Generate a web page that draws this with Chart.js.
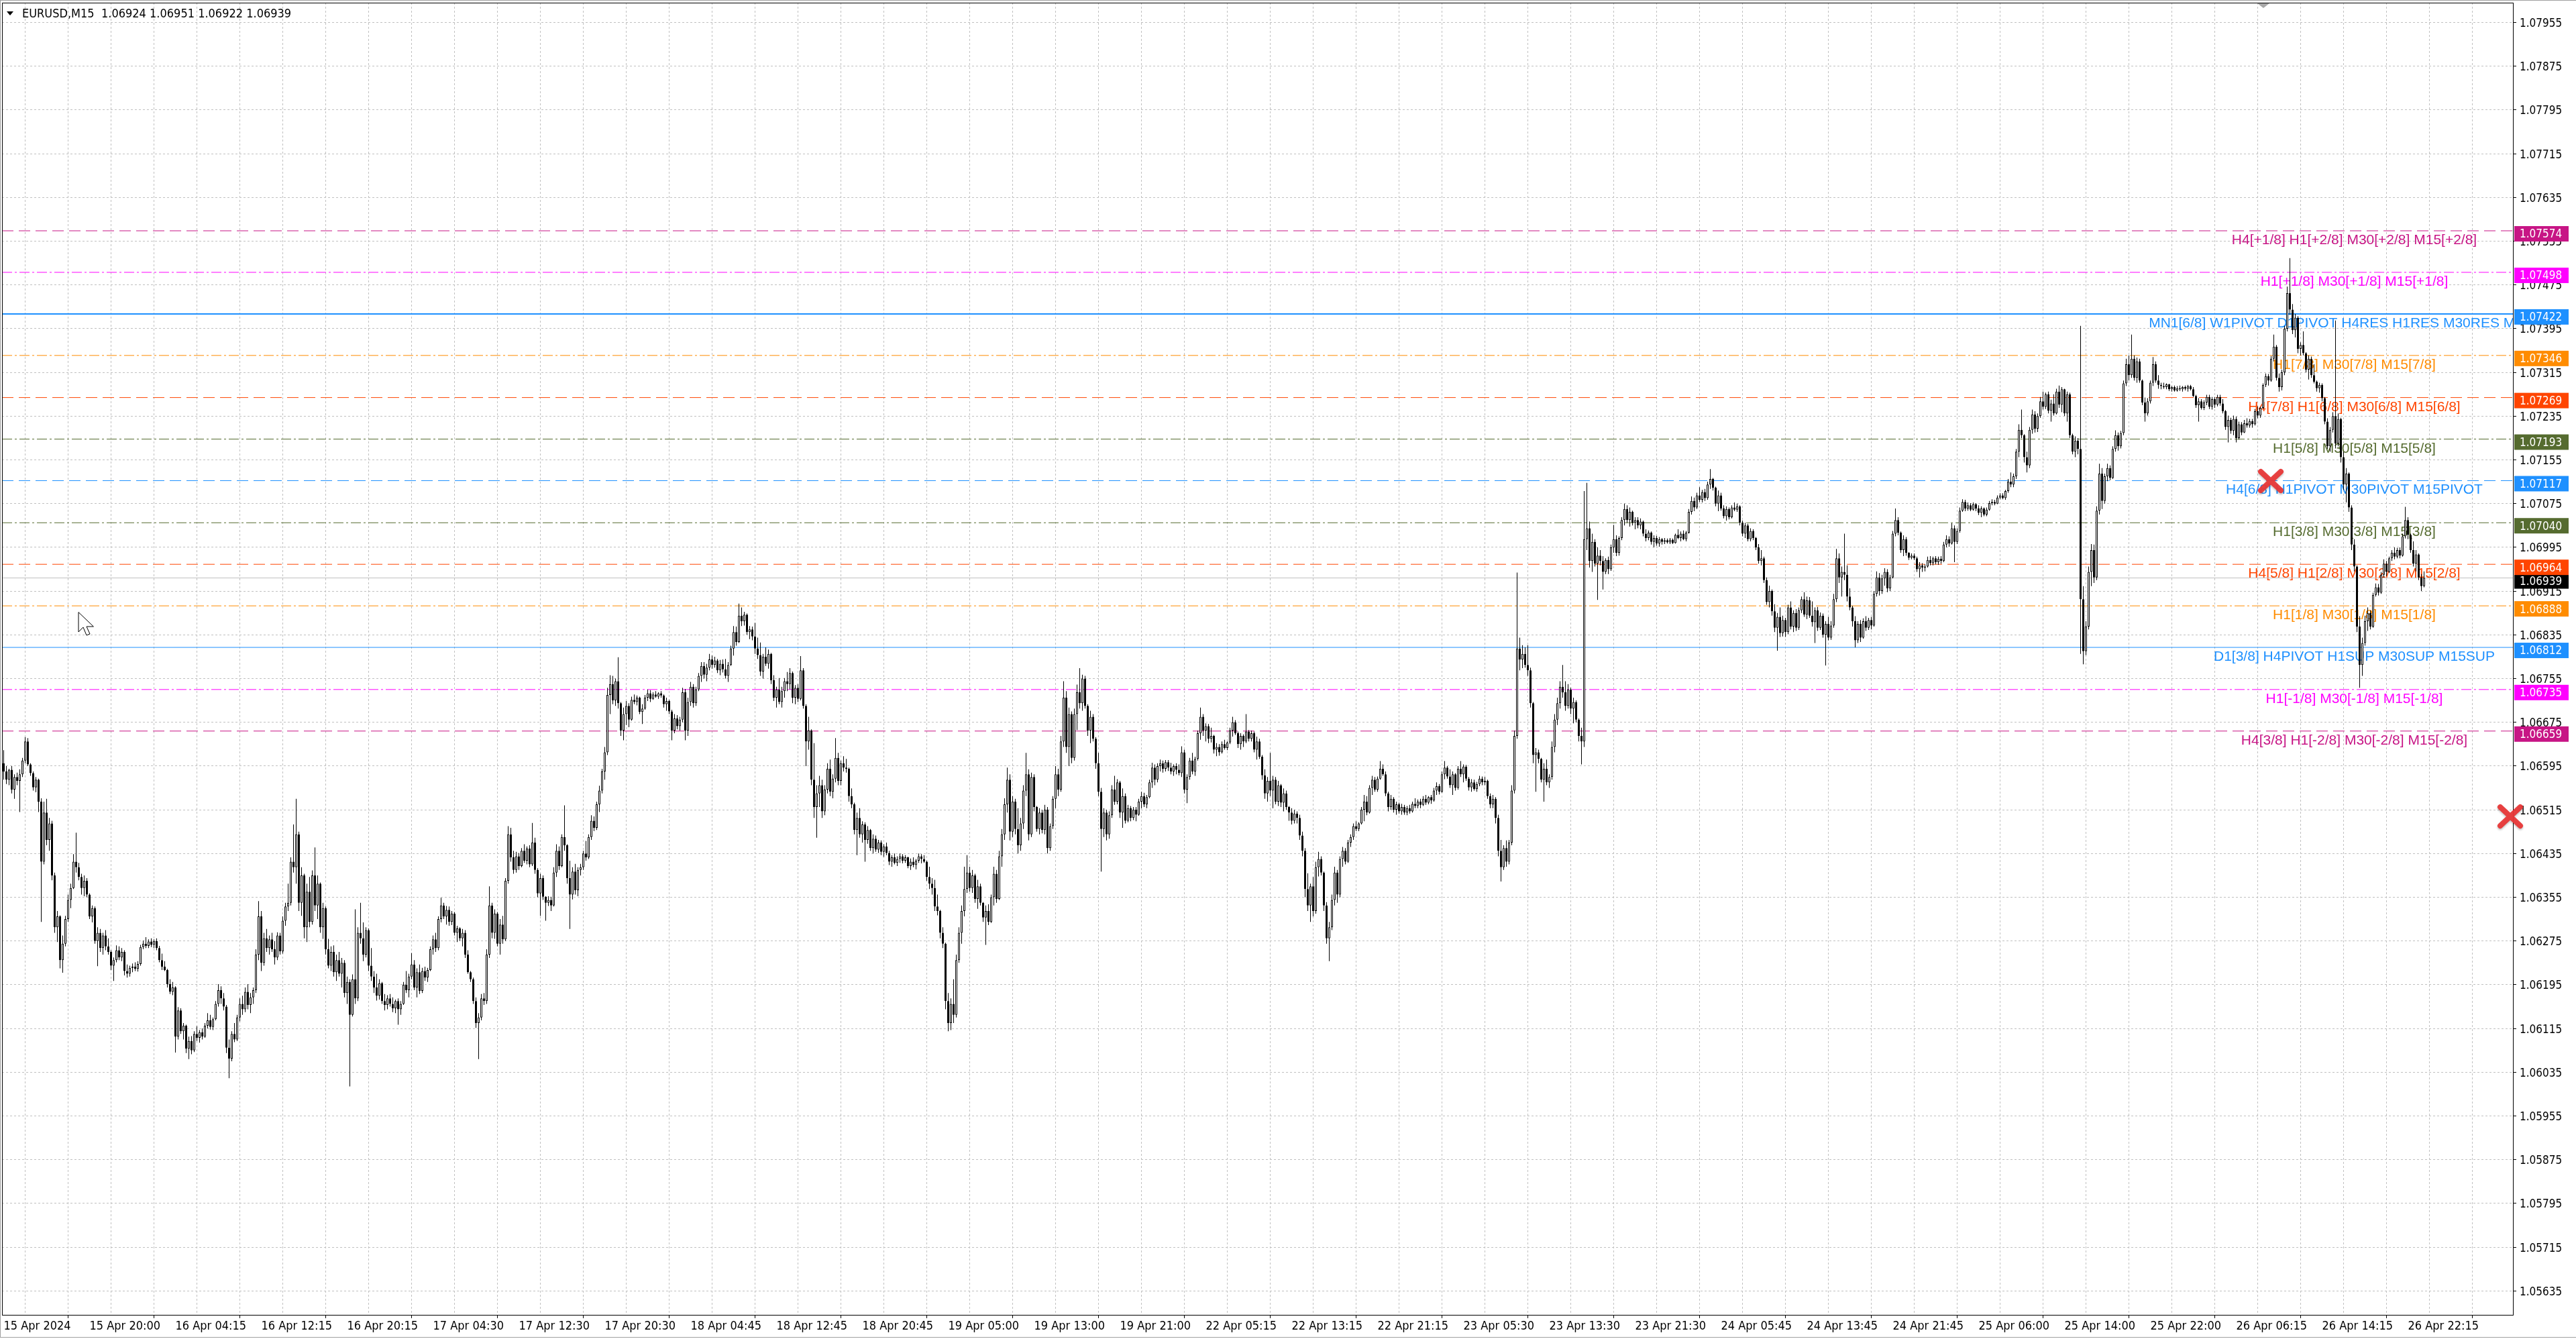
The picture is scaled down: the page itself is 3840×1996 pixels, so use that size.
<!DOCTYPE html>
<html>
<head>
    <title>EURUSD,M15</title>
    <script src="https://cdn.jsdelivr.net/npm/chart.js"></script>
    <style>
        html, body { margin: 0; padding: 0; background: #fff; overflow: hidden; }
    </style>
</head>
<body>
    <canvas id="priceChart" width="3840" height="1996"></canvas>

    <script>
        // M15 candles per trading day, [open, high, low, close] in points: price = 1 + v / 100000
        const apr15 = [
            [6600,6624,6570,6585],[6585,6595,6562,6570],[6570,6590,6560,6588],[6588,6595,6545,6552],[6552,6580,6535,6575],
            [6575,6583,6560,6568],[6568,6589,6511,6580],[6580,6610,6575,6605],[6605,6648,6600,6640],[6640,6646,6595,6598],
            [6598,6600,6577,6582],[6582,6585,6550,6556],[6556,6575,6547,6570],[6570,6572,6511,6530],[6530,6536,6310,6420],
            [6420,6530,6415,6510],[6510,6535,6450,6460],[6460,6500,6440,6490],[6490,6495,6386,6395],[6395,6400,6290,6300],
            [6300,6330,6273,6320],[6320,6322,6225,6240],[6240,6285,6217,6270],[6270,6321,6265,6315],[6315,6360,6310,6350],
            [6350,6380,6335,6372],[6372,6434,6370,6420],[6420,6473,6400,6410],[6410,6418,6386,6392],[6392,6398,6360,6372],
            [6372,6395,6357,6385],[6385,6390,6355,6360],[6360,6362,6315,6320],[6320,6340,6309,6335],[6335,6338,6270,6275],
            [6275,6300,6229,6290],[6290,6297,6255,6262],[6262,6290,6250,6285],[6285,6295,6258,6265],[6265,6280,6250,6255],
            [6255,6258,6222,6230],[6230,6245,6202,6240],[6240,6267,6236,6258],[6258,6265,6240,6245],[6245,6262,6238,6255],
            [6255,6258,6212,6220],[6220,6232,6208,6215],[6215,6230,6210,6226]
        ];
        const apr16 = [
            [6226,6234,6218,6228],[6228,6236,6220,6224],[6224,6238,6219,6233],[6233,6268,6230,6264],[6264,6276,6260,6270],
            [6270,6282,6262,6266],[6266,6278,6262,6274],[6274,6280,6264,6268],[6268,6278,6262,6275],[6275,6280,6258,6262],
            [6262,6266,6236,6240],[6240,6252,6222,6228],[6228,6238,6220,6222],[6222,6224,6190,6196],[6196,6205,6178,6182],
            [6182,6200,6176,6190],[6190,6192,6071,6100],[6100,6154,6095,6148],[6148,6152,6105,6110],[6110,6125,6095,6120],
            [6120,6122,6070,6078],[6078,6100,6059,6092],[6092,6101,6068,6075],[6075,6110,6072,6105],[6105,6119,6092,6098],
            [6098,6112,6089,6108],[6108,6115,6095,6100],[6100,6125,6098,6120],[6120,6143,6115,6130],[6130,6140,6113,6118],
            [6118,6135,6112,6132],[6132,6165,6130,6160],[6160,6196,6155,6185],[6185,6192,6160,6170],[6170,6180,6148,6155],
            [6155,6158,6070,6080],[6080,6095,6024,6060],[6060,6110,6055,6105],[6105,6125,6090,6095],[6095,6140,6092,6135],
            [6135,6170,6128,6160],[6160,6175,6140,6150],[6150,6190,6145,6182],[6182,6196,6150,6158],[6158,6180,6143,6172],
            [6172,6190,6160,6185],[6185,6260,6180,6250],[6250,6348,6240,6320],[6320,6330,6220,6235],[6235,6290,6230,6280],
            [6280,6297,6255,6262],[6262,6285,6250,6278],[6278,6290,6255,6260],[6260,6275,6232,6245],[6245,6291,6240,6285],
            [6285,6290,6250,6256],[6256,6320,6252,6312],[6312,6345,6303,6338],[6338,6380,6330,6345],[6345,6428,6340,6420],
            [6420,6488,6400,6410],[6410,6535,6380,6470],[6470,6475,6330,6345],[6345,6410,6321,6395],[6395,6398,6280,6300],
            [6300,6380,6273,6365],[6365,6392,6300,6310],[6310,6404,6305,6395],[6395,6446,6330,6340],[6340,6395,6315,6380],
            [6380,6382,6290,6300],[6300,6345,6279,6335],[6335,6338,6250,6260],[6260,6279,6225,6230],[6230,6265,6220,6255],
            [6255,6267,6210,6218],[6218,6250,6202,6240],[6240,6255,6210,6215],[6215,6244,6190,6235],[6235,6240,6172,6180],
            [6180,6210,6160,6200],[6200,6205,6009,6140],[6140,6214,6137,6205],[6205,6333,6160,6170],[6170,6300,6165,6290],
            [6290,6345,6270,6280],[6280,6309,6238,6250],[6250,6300,6245,6295],[6295,6298,6220,6230],[6230,6262,6202,6210],
            [6210,6220,6180,6190],[6190,6215,6166,6175],[6175,6205,6168,6198],[6198,6200,6160,6165],[6165,6178,6148,6158]
        ];
        const apr17 = [
            [6158,6176,6150,6170],[6170,6178,6155,6160],[6160,6172,6145,6152],[6152,6168,6143,6165],[6165,6170,6122,6150],
            [6150,6165,6140,6160],[6160,6200,6158,6195],[6195,6220,6180,6185],[6185,6215,6172,6210],[6210,6253,6205,6232],
            [6232,6240,6185,6190],[6190,6225,6172,6218],[6218,6232,6178,6184],[6184,6226,6180,6220],[6220,6228,6202,6208],
            [6208,6226,6200,6222],[6222,6265,6220,6260],[6260,6285,6250,6278],[6278,6290,6255,6262],[6262,6320,6258,6315],
            [6315,6354,6309,6340],[6340,6345,6315,6320],[6320,6339,6305,6332],[6332,6338,6303,6310],[6310,6330,6304,6325],
            [6325,6328,6285,6290],[6290,6303,6273,6298],[6298,6300,6275,6280],[6280,6297,6265,6290],[6290,6295,6244,6250],
            [6250,6258,6215,6218],[6218,6220,6200,6205],[6205,6208,6160,6165],[6165,6172,6116,6125],[6125,6143,6059,6135],
            [6135,6178,6130,6170],[6170,6180,6158,6165],[6165,6260,6160,6250],[6250,6375,6244,6340],[6340,6345,6280,6290],
            [6290,6333,6279,6325],[6325,6328,6265,6270],[6270,6315,6250,6305],[6305,6321,6270,6278],[6278,6390,6275,6385],
            [6385,6485,6380,6470],[6470,6482,6420,6428],[6428,6440,6398,6405],[6405,6438,6400,6430],[6430,6436,6405,6412],
            [6412,6445,6410,6440],[6440,6452,6418,6422],[6422,6448,6415,6444],[6444,6450,6410,6415],[6415,6491,6412,6455],
            [6455,6464,6398,6405],[6405,6408,6355,6362],[6362,6398,6321,6390],[6390,6395,6350,6356],[6356,6357,6312,6345],
            [6345,6357,6339,6350],[6350,6356,6330,6340],[6340,6410,6338,6400],[6400,6452,6392,6440],[6440,6448,6405,6412],
            [6412,6470,6410,6465],[6465,6523,6440,6450],[6450,6452,6380,6390],[6390,6422,6297,6360],[6360,6410,6351,6402],
            [6402,6416,6360,6368],[6368,6410,6357,6405],[6405,6416,6395,6410],[6410,6440,6405,6435],[6435,6458,6422,6428],
            [6428,6470,6425,6465],[6465,6505,6460,6495],[6495,6503,6476,6482],[6482,6530,6478,6525],[6525,6559,6511,6550],
            [6550,6590,6545,6585],[6585,6630,6570,6620],[6620,6738,6615,6725],[6725,6761,6690,6745],[6745,6760,6708,6715],
            [6715,6755,6705,6750],[6750,6794,6700,6710],[6710,6712,6650,6660],[6660,6702,6642,6690],[6690,6714,6670,6705],
            [6705,6710,6666,6680],[6680,6722,6678,6716],[6716,6726,6708,6712],[6712,6724,6706,6720],[6720,6722,6690,6694]
        ];
        const apr18 = [
            [6694,6708,6672,6700],[6700,6725,6698,6720],[6720,6735,6714,6728],[6728,6734,6712,6718],[6718,6730,6716,6726],
            [6726,6732,6720,6722],[6722,6730,6718,6728],[6728,6732,6720,6724],[6724,6726,6702,6708],[6708,6720,6696,6714],
            [6714,6716,6690,6695],[6695,6698,6642,6660],[6660,6690,6655,6682],[6682,6688,6662,6668],[6668,6685,6660,6680],
            [6680,6738,6675,6730],[6730,6736,6642,6660],[6660,6720,6650,6712],[6712,6749,6705,6740],[6740,6745,6702,6710],
            [6710,6740,6705,6735],[6735,6765,6732,6760],[6760,6785,6749,6778],[6778,6785,6755,6762],[6762,6782,6750,6775],
            [6775,6800,6770,6790],[6790,6797,6773,6780],[6780,6795,6775,6788],[6788,6791,6765,6770],[6770,6789,6761,6782],
            [6782,6790,6766,6772],[6772,6791,6755,6760],[6760,6785,6749,6780],[6780,6815,6778,6810],[6810,6851,6797,6840],
            [6840,6850,6815,6822],[6822,6892,6820,6870],[6870,6885,6851,6860],[6860,6877,6852,6872],[6872,6874,6835,6840],
            [6840,6851,6827,6845],[6845,6850,6825,6832],[6832,6857,6800,6810],[6810,6830,6791,6798],[6798,6821,6760,6768],
            [6768,6800,6755,6795],[6795,6812,6778,6782],[6782,6808,6773,6800],[6800,6802,6745,6752],[6752,6761,6714,6720],
            [6720,6740,6702,6735],[6735,6756,6708,6712],[6712,6740,6702,6732],[6732,6756,6720,6750],[6750,6767,6732,6745],
            [6745,6774,6735,6765],[6765,6768,6710,6720],[6720,6743,6708,6738],[6738,6745,6712,6718],[6718,6796,6715,6770],
            [6770,6774,6700,6705],[6705,6708,6595,6640],[6640,6685,6625,6660],[6660,6662,6560,6570],[6570,6637,6500,6520],
            [6520,6560,6464,6545],[6545,6577,6520,6560],[6560,6570,6500,6512],[6512,6560,6505,6552],[6552,6600,6545,6590],
            [6590,6607,6540,6548],[6548,6580,6536,6572],[6572,6646,6565,6610],[6610,6619,6560,6568],[6568,6605,6560,6600],
            [6600,6613,6585,6592],[6592,6608,6583,6590],[6590,6592,6530,6540],[6540,6554,6518,6525],[6525,6528,6470,6478],
            [6478,6510,6432,6500],[6500,6518,6464,6470],[6470,6494,6455,6488],[6488,6492,6420,6460],[6460,6485,6453,6478],
            [6478,6480,6440,6445],[6445,6470,6435,6462],[6462,6468,6438,6442],[6442,6460,6436,6455],[6455,6459,6432,6438],
            [6438,6452,6429,6448],[6448,6455,6432,6436],[6436,6440,6414,6420],[6420,6432,6411,6428],[6428,6435,6415,6418]
        ];
        const apr19 = [
            [6418,6430,6412,6425],[6425,6435,6418,6430],[6430,6434,6417,6422],[6422,6432,6418,6428],[6428,6429,6408,6412],
            [6412,6426,6405,6420],[6420,6428,6410,6414],[6414,6425,6406,6422],[6422,6435,6418,6430],[6430,6434,6417,6425],
            [6425,6432,6418,6420],[6420,6422,6385,6392],[6392,6411,6370,6380],[6380,6390,6360,6372],[6372,6387,6330,6338],
            [6338,6360,6322,6330],[6330,6332,6280,6290],[6290,6300,6262,6270],[6270,6272,6150,6165],[6165,6180,6110,6125],
            [6125,6170,6112,6160],[6160,6205,6125,6140],[6140,6250,6135,6240],[6240,6300,6235,6290],[6290,6340,6270,6330],
            [6330,6411,6320,6370],[6370,6432,6363,6400],[6400,6411,6365,6372],[6372,6405,6363,6395],[6395,6398,6345,6352],
            [6352,6387,6334,6375],[6375,6380,6340,6345],[6345,6346,6310,6318],[6318,6340,6268,6330],[6330,6342,6304,6310],
            [6310,6360,6308,6355],[6355,6411,6340,6398],[6398,6405,6345,6352],[6352,6440,6350,6430],[6430,6480,6411,6470],
            [6470,6536,6460,6525],[6525,6592,6510,6570],[6570,6580,6459,6475],[6475,6540,6465,6530],[6530,6535,6470,6480],
            [6480,6518,6435,6450],[6450,6500,6440,6490],[6490,6560,6480,6550],[6550,6619,6540,6580],[6580,6589,6459,6470],
            [6470,6583,6465,6575],[6575,6580,6512,6520],[6520,6522,6475,6480],[6480,6518,6470,6510],[6510,6515,6472,6478],
            [6478,6524,6470,6515],[6515,6520,6435,6445],[6445,6490,6440,6485],[6485,6540,6480,6535],[6535,6595,6518,6580],
            [6580,6590,6540,6552],[6552,6650,6548,6640],[6640,6750,6630,6720],[6720,6732,6619,6630],[6630,6702,6595,6690],
            [6690,6695,6600,6610],[6610,6700,6605,6690],[6690,6744,6661,6730],[6730,6774,6700,6710],[6710,6762,6696,6755],
            [6755,6760,6700,6705],[6705,6708,6650,6660],[6660,6696,6637,6685],[6685,6690,6640,6645],[6645,6648,6590,6600],
            [6600,6619,6540,6548],[6548,6555,6402,6480],[6480,6518,6465,6510],[6510,6515,6459,6470],[6470,6512,6462,6505],
            [6505,6560,6500,6552],[6552,6577,6524,6530],[6530,6571,6525,6565],[6565,6568,6500,6510],[6510,6554,6482,6540],
            [6540,6545,6490,6495],[6495,6524,6492,6518],[6518,6522,6494,6500],[6500,6520,6496,6515],[6515,6520,6494,6506],
            [6506,6535,6504,6530],[6530,6548,6518,6540],[6540,6546,6520,6525],[6525,6542,6518,6538],[6538,6570,6536,6565]
        ];
        const apr22 = [
            [6565,6601,6555,6592],[6592,6598,6560,6570],[6570,6600,6565,6595],[6595,6607,6585,6600],[6600,6605,6583,6590],
            [6590,6606,6585,6602],[6602,6606,6586,6592],[6592,6601,6580,6585],[6585,6598,6577,6595],[6595,6600,6580,6588],
            [6588,6598,6578,6582],[6582,6631,6575,6620],[6620,6625,6545,6552],[6552,6580,6527,6575],[6575,6610,6570,6605],
            [6605,6619,6580,6585],[6585,6612,6577,6608],[6608,6660,6605,6655],[6655,6702,6643,6685],[6685,6690,6650,6660],
            [6660,6673,6640,6668],[6668,6672,6637,6645],[6645,6665,6638,6650],[6650,6652,6618,6625],[6625,6637,6613,6630],
            [6630,6635,6614,6620],[6620,6640,6618,6635],[6635,6643,6625,6628],[6628,6640,6624,6638],[6638,6665,6635,6660],
            [6660,6685,6649,6675],[6675,6679,6652,6655],[6655,6658,6628,6635],[6635,6655,6625,6650],[6650,6653,6630,6640],
            [6640,6690,6637,6658],[6658,6661,6640,6645],[6645,6660,6640,6655],[6655,6658,6620,6625],[6625,6649,6607,6640],
            [6640,6645,6608,6612],[6612,6615,6570,6578],[6578,6589,6535,6545],[6545,6575,6530,6568],[6568,6619,6540,6550],
            [6550,6577,6518,6570],[6570,6575,6525,6530],[6530,6568,6522,6560],[6560,6562,6520,6528],[6528,6554,6512,6545],
            [6545,6550,6515,6520],[6520,6522,6495,6510],[6510,6518,6488,6495],[6495,6515,6490,6508],[6508,6512,6490,6500],
            [6500,6506,6460,6468],[6468,6475,6430,6440],[6440,6445,6355,6370],[6370,6399,6330,6340],[6340,6380,6310,6375],
            [6375,6392,6320,6330],[6330,6420,6325,6410],[6410,6438,6393,6425],[6425,6430,6395,6400],[6400,6402,6330,6340],
            [6340,6346,6270,6280],[6280,6310,6238,6300],[6300,6360,6295,6350],[6350,6411,6340,6400],[6400,6405,6345,6360],
            [6360,6430,6355,6425],[6425,6447,6411,6440],[6440,6445,6415,6420],[6420,6460,6418,6455],[6455,6470,6447,6465],
            [6465,6490,6460,6485],[6485,6494,6476,6480],[6480,6492,6476,6490],[6490,6520,6488,6515],[6515,6542,6494,6530],
            [6530,6540,6505,6510],[6510,6560,6508,6555],[6555,6577,6542,6570],[6570,6575,6548,6552],[6552,6576,6548,6572],
            [6572,6604,6570,6590],[6590,6598,6577,6580],[6580,6585,6540,6545],[6545,6548,6512,6520],[6520,6542,6515,6535],
            [6535,6538,6510,6515],[6515,6530,6506,6525],[6525,6528,6508,6512],[6512,6526,6506,6520],[6520,6524,6506,6510]
        ];
        const apr23 = [
            [6510,6522,6505,6518],[6518,6524,6508,6512],[6512,6530,6510,6526],[6526,6536,6518,6522],[6522,6534,6518,6530],
            [6530,6535,6518,6524],[6524,6540,6522,6535],[6535,6542,6524,6528],[6528,6540,6525,6538],[6538,6542,6526,6532],
            [6532,6555,6530,6550],[6550,6565,6542,6558],[6558,6562,6543,6548],[6548,6585,6546,6580],[6580,6604,6571,6592],
            [6592,6595,6572,6576],[6576,6589,6555,6560],[6560,6585,6542,6580],[6580,6582,6550,6555],[6555,6595,6552,6590],
            [6590,6604,6575,6580],[6580,6598,6565,6594],[6594,6597,6568,6572],[6572,6575,6550,6556],[6556,6571,6548,6565],
            [6565,6570,6550,6553],[6553,6566,6548,6562],[6562,6577,6558,6572],[6572,6576,6560,6565],[6565,6575,6560,6568],
            [6568,6570,6535,6540],[6540,6545,6518,6525],[6525,6542,6518,6535],[6535,6538,6490,6500],[6500,6506,6430,6440],
            [6440,6460,6384,6410],[6410,6450,6405,6445],[6445,6459,6411,6420],[6420,6460,6415,6455],[6455,6560,6450,6550],
            [6550,6660,6545,6650],[6650,6949,6645,6810],[6810,6830,6770,6790],[6790,6816,6774,6800],[6800,6812,6775,6780],
            [6780,6816,6760,6770],[6770,6775,6702,6710],[6710,6712,6600,6615],[6615,6628,6548,6620],[6620,6625,6600,6608],
            [6608,6610,6565,6570],[6570,6600,6530,6590],[6590,6607,6560,6565],[6565,6580,6555,6575],[6575,6640,6570,6630],
            [6630,6690,6620,6680],[6680,6720,6670,6710],[6710,6750,6700,6740],[6740,6780,6720,6730],[6730,6750,6696,6705],
            [6705,6745,6700,6735],[6735,6738,6690,6700],[6700,6720,6673,6712],[6712,6715,6675,6680],[6680,6682,6640,6650],
            [6650,6665,6598,6640],[6640,7098,6630,7010],[7010,7113,6990,7030],[7030,7042,6958,6970],[6970,7020,6950,7005],
            [7005,7010,6960,6965],[6965,6995,6899,6980],[6980,6990,6962,6970],[6970,6979,6918,6950],[6950,6975,6946,6972],
            [6972,6978,6946,6955],[6955,7000,6952,6995],[6995,7036,6985,7010],[7010,7017,6979,6985],[6985,7015,6980,7012],
            [7012,7050,7008,7045],[7045,7075,7035,7065],[7065,7072,7040,7045],[7045,7068,7033,7060],[7060,7062,7035,7040],
            [7040,7050,7028,7045],[7045,7050,7030,7035],[7035,7048,7028,7042],[7042,7044,7015,7020],[7020,7028,7006,7012],
            [7012,7026,7008,7022],[7022,7024,7000,7005],[7005,7017,6995,7012],[7012,7016,6998,7002],[7002,7014,6996,7010]
        ];
        const apr24 = [
            [7010,7012,7000,7005],[7005,7012,7001,7008],[7008,7011,7002,7004],[7004,7012,7001,7009],[7009,7011,7001,7003],
            [7003,7020,7002,7018],[7018,7028,7010,7012],[7012,7024,7006,7020],[7020,7026,7008,7010],[7010,7025,7006,7022],
            [7022,7065,7020,7060],[7060,7088,7055,7080],[7080,7086,7061,7068],[7068,7095,7065,7090],[7090,7105,7078,7082],
            [7082,7100,7077,7096],[7096,7102,7080,7085],[7085,7115,7082,7110],[7110,7138,7102,7120],[7120,7122,7099,7104],
            [7104,7106,7070,7075],[7075,7099,7061,7090],[7090,7095,7062,7066],[7066,7072,7048,7052],[7052,7070,7044,7065],
            [7065,7068,7046,7050],[7050,7072,7048,7068],[7068,7077,7061,7064],[7064,7075,7060,7070],[7070,7072,7035,7040],
            [7040,7044,7015,7020],[7020,7040,7012,7035],[7035,7038,7006,7010],[7010,7030,7006,7025],[7025,7028,7008,7012],
            [7012,7014,6990,6995],[6995,7001,6965,6970],[6970,6990,6962,6975],[6975,6978,6930,6935],[6935,6940,6890,6895],
            [6895,6925,6885,6915],[6915,6918,6870,6878],[6878,6891,6840,6848],[6848,6875,6806,6868],[6868,6885,6831,6838],
            [6838,6870,6832,6862],[6862,6866,6831,6840],[6840,6890,6836,6885],[6885,6896,6845,6850],[6850,6880,6840,6875],
            [6875,6882,6842,6848],[6848,6885,6844,6880],[6880,6905,6875,6900],[6900,6913,6868,6872],[6872,6905,6864,6898],
            [6898,6904,6866,6870],[6870,6896,6850,6858],[6858,6885,6820,6880],[6880,6886,6842,6848],[6848,6876,6844,6870],
            [6870,6874,6830,6835],[6835,6860,6779,6855],[6855,6868,6825,6830],[6830,6860,6826,6852],[6852,6910,6848,6900],
            [6900,6992,6895,6975],[6975,6984,6930,6940],[6940,6960,6905,6950],[6950,7020,6935,6945],[6945,6962,6896,6905],
            [6905,6920,6880,6885],[6885,6888,6850,6860],[6860,6869,6812,6825],[6825,6860,6820,6855],[6855,6862,6822,6830],
            [6830,6865,6828,6860],[6860,6869,6842,6848],[6848,6866,6844,6862],[6862,6868,6845,6852],[6852,6915,6850,6910],
            [6910,6951,6905,6940],[6940,6948,6907,6915],[6915,6945,6910,6938],[6938,6957,6925,6950],[6950,6955,6913,6920],
            [6920,6945,6915,6940],[6940,7025,6938,7020],[7020,7066,7015,7045],[7045,7050,7017,7022],[7022,7024,6985,6990],
            [6990,7017,6979,7010],[7010,7014,6980,6985],[6985,6986,6972,6976],[6976,6984,6973,6980],[6980,6984,6972,6975]
        ];
        const apr25 = [
            [6975,6978,6950,6955],[6955,6968,6940,6962],[6962,6966,6950,6958],[6958,6964,6951,6960],[6960,6978,6958,6972],
            [6972,6979,6962,6966],[6966,6978,6962,6975],[6975,6979,6964,6968],[6968,6978,6963,6974],[6974,6979,6965,6970],
            [6970,7005,6968,7000],[7000,7017,6995,7010],[7010,7015,6996,7002],[7002,7039,7000,7030],[7030,7035,6968,7005],
            [7005,7030,7001,7025],[7025,7068,7022,7062],[7062,7083,7060,7078],[7078,7082,7061,7066],[7066,7077,7062,7072],
            [7072,7076,7061,7064],[7064,7077,7062,7074],[7074,7076,7061,7066],[7066,7072,7054,7058],[7058,7070,7050,7066],
            [7066,7068,7052,7055],[7055,7068,7052,7064],[7064,7080,7062,7076],[7076,7083,7072,7078],[7078,7082,7072,7075],
            [7075,7090,7074,7086],[7086,7094,7083,7090],[7090,7094,7083,7085],[7085,7100,7082,7098],[7098,7120,7095,7115],
            [7115,7132,7105,7110],[7110,7130,7105,7125],[7125,7175,7120,7170],[7170,7220,7160,7210],[7210,7247,7195,7200],
            [7200,7202,7150,7160],[7160,7170,7132,7145],[7145,7215,7140,7210],[7210,7247,7203,7238],[7238,7244,7205,7212],
            [7212,7240,7206,7235],[7235,7270,7232,7262],[7262,7280,7247,7252],[7252,7278,7248,7275],[7275,7280,7240,7245],
            [7245,7265,7225,7258],[7258,7275,7236,7240],[7240,7285,7238,7280],[7280,7291,7250,7256],[7256,7288,7242,7284],
            [7284,7285,7235,7240],[7240,7280,7225,7275],[7275,7278,7195,7200],[7200,7203,7165,7170],[7170,7198,7160,7190],
            [7190,7195,7165,7175],[7175,7400,6800,6900],[6900,6924,6781,6805],[6805,6860,6798,6850],[6850,6960,6845,6950],
            [6950,7001,6924,6990],[6990,7000,6930,6940],[6940,7070,6935,7062],[7062,7148,7055,7130],[7130,7140,7065,7080],
            [7080,7130,7075,7125],[7125,7148,7116,7140],[7140,7145,7118,7122],[7122,7180,7120,7175],[7175,7209,7170,7200],
            [7200,7205,7172,7180],[7180,7208,7176,7204],[7204,7300,7200,7295],[7295,7340,7290,7330],[7330,7346,7300,7310],
            [7310,7384,7305,7340],[7340,7346,7300,7305],[7305,7342,7296,7335],[7335,7340,7296,7300],[7300,7302,7255,7260],
            [7260,7269,7225,7240],[7240,7268,7236,7262],[7262,7300,7258,7296],[7296,7343,7290,7330],[7330,7335,7296,7300],
            [7300,7310,7285,7292],[7292,7296,7284,7290],[7290,7296,7285,7288],[7288,7295,7284,7293],[7293,7294,7281,7284]
        ];
        const apr26 = [
            [7284,7290,7280,7288],[7288,7291,7280,7282],[7282,7290,7280,7286],[7286,7291,7281,7284],[7284,7290,7280,7288],
            [7288,7291,7282,7285],[7285,7292,7280,7290],[7290,7292,7282,7284],[7284,7288,7270,7272],[7272,7274,7250,7255],
            [7255,7268,7225,7262],[7262,7266,7247,7250],[7250,7264,7246,7260],[7260,7274,7255,7270],[7270,7274,7248,7252],
            [7252,7270,7247,7266],[7266,7270,7250,7256],[7256,7274,7253,7270],[7270,7274,7254,7258],[7258,7266,7240,7244],
            [7244,7246,7210,7215],[7215,7236,7187,7228],[7228,7232,7203,7208],[7208,7236,7200,7230],[7230,7234,7187,7195],
            [7195,7225,7192,7220],[7220,7224,7200,7205],[7205,7228,7204,7222],[7222,7231,7214,7218],[7218,7230,7214,7226],
            [7226,7230,7214,7220],[7220,7248,7218,7244],[7244,7253,7231,7236],[7236,7252,7232,7250],[7250,7295,7248,7292],
            [7292,7313,7288,7308],[7308,7312,7291,7300],[7300,7345,7298,7340],[7340,7384,7335,7362],[7362,7365,7300,7305],
            [7305,7313,7280,7288],[7288,7320,7282,7315],[7315,7400,7310,7395],[7395,7472,7390,7460],[7460,7524,7420,7430],
            [7430,7440,7385,7392],[7392,7422,7379,7415],[7415,7418,7350,7358],[7358,7370,7346,7365],[7365,7390,7346,7350],
            [7350,7352,7315,7320],[7320,7346,7302,7340],[7340,7344,7305,7310],[7310,7330,7295,7298],[7298,7300,7280,7286],
            [7286,7296,7278,7292],[7292,7295,7262,7268],[7268,7270,7220,7225],[7225,7231,7175,7180],[7180,7215,7170,7210],
            [7210,7242,7205,7235],[7235,7410,7176,7185],[7185,7240,7180,7230],[7230,7232,7150,7160],[7160,7170,7100,7110],
            [7110,7140,7077,7130],[7130,7132,7060,7068],[7068,7072,6990,7000],[7000,7010,6951,6960],[6960,6962,6840,6850],
            [6850,6869,6738,6780],[6780,6830,6760,6820],[6820,6870,6815,6860],[6860,6885,6842,6875],[6875,6880,6845,6850],
            [6850,6912,6848,6908],[6908,6929,6905,6922],[6922,6928,6907,6912],[6912,6950,6910,6945],[6945,6973,6940,6965],
            [6965,6970,6942,6950],[6950,6978,6948,6975],[6975,6990,6970,6985],[6985,6995,6973,6978],[6978,6994,6975,6990],
            [6990,6995,6975,6980],[6980,7020,6978,7015],[7015,7069,7011,7045],[7045,7050,7010,7018],[7018,7020,6985,6990],
            [6990,7006,6960,6965],[6965,6990,6951,6982],[6982,6984,6935,6940],[6940,6946,6915,6924],[6924,6951,6922,6939]
        ];

        // time axis labels, one every 32 bars
        const timeLabels = [
            '15 Apr 2024', '15 Apr 20:00', '16 Apr 04:15', '16 Apr 12:15', '16 Apr 20:15', '17 Apr 04:30',
            '17 Apr 12:30', '17 Apr 20:30', '18 Apr 04:45', '18 Apr 12:45', '18 Apr 20:45', '19 Apr 05:00',
            '19 Apr 13:00', '19 Apr 21:00', '22 Apr 05:15', '22 Apr 13:15', '22 Apr 21:15', '23 Apr 05:30',
            '23 Apr 13:30', '23 Apr 21:30', '24 Apr 05:45', '24 Apr 13:45', '24 Apr 21:45', '25 Apr 06:00',
            '25 Apr 14:00', '25 Apr 22:00', '26 Apr 06:15', '26 Apr 14:15', '26 Apr 22:15'
        ];
        const priceTicks = [
            1.07955, 1.07875, 1.07795, 1.07715, 1.07635, 1.07555, 1.07475, 1.07395, 1.07315, 1.07235,
            1.07155, 1.07075, 1.06995, 1.06915, 1.06835, 1.06755, 1.06675, 1.06595, 1.06515, 1.06435,
            1.06355, 1.06275, 1.06195, 1.06115, 1.06035, 1.05955, 1.05875, 1.05795, 1.05715, 1.05635
        ];

        // indicator levels
        const levelPrices = [1.07574, 1.07498, 1.07422, 1.07346, 1.07269, 1.07193, 1.07117,
                             1.07040, 1.06964, 1.06888, 1.06812, 1.06735, 1.06659];
        const levelNames = [
            'H4[+1/8] H1[+2/8] M30[+2/8] M15[+2/8]',
            'H1[+1/8] M30[+1/8] M15[+1/8]',
            'MN1[6/8] W1PIVOT D1PIVOT H4RES H1RES M30RES M15RES',
            'H1[7/8] M30[7/8] M15[7/8]',
            'H4[7/8] H1[6/8] M30[6/8] M15[6/8]',
            'H1[5/8] M30[5/8] M15[5/8]',
            'H4[6/8] H1PIVOT M30PIVOT M15PIVOT',
            'H1[3/8] M30[3/8] M15[3/8]',
            'H4[5/8] H1[2/8] M30[2/8] M15[2/8]',
            'H1[1/8] M30[1/8] M15[1/8]',
            'D1[3/8] H4PIVOT H1SUP M30SUP M15SUP',
            'H1[-1/8] M30[-1/8] M15[-1/8]',
            'H4[3/8] H1[-2/8] M30[-2/8] M15[-2/8]'
        ];

        // level styles
        const levelColors = ['#C71585', '#FF00FF', '#1E90FF', '#FF8C00', '#FF4500', '#556B2F', '#1E90FF',
                             '#556B2F', '#FF4500', '#FF8C00', '#1E90FF', '#FF00FF', '#C71585'];
        const levelStyles = ['dash', 'dashdot', 'solid', 'dashdot', 'dash', 'dashdot', 'dash',
                             'dashdot', 'dash', 'dashdot', 'solid', 'dashdot', 'dash'];
        const levelWidths = [1, 1, 2, 1, 1, 1, 1, 1, 1, 1, 1, 1, 1];
        const dashes = { solid: [], dash: [17, 8], dashdot: [15, 4, 3, 4] };

        const candles = [].concat(apr15, apr16, apr17, apr18, apr19, apr22, apr23, apr24, apr25, apr26);
        const toPrice = v => 1 + v / 100000;
        const lastBar = candles[candles.length - 1];
        const lastPrice = toPrice(lastBar[3]);

        // axis window: 4 px per bar, 81500 px per 1.0 of price
        const xMin = -0.625, xMax = 935.375;
        const yMin = 1.0559, yMax = 1.079912;
        const labelBar = 876;
        const sansCond = '"DejaVu Sans Condensed", "DejaVu Sans", sans-serif';

        const gridBars = [];
        for (let b = 0; b <= xMax; b += 16) gridBars.push(b);

        const levelSets = levelPrices.map((p, k) => ({
            type: 'line',
            data: [{ x: xMin, y: p }, { x: xMax, y: p }],
            borderColor: levelColors[k],
            borderWidth: levelWidths[k],
            borderDash: dashes[levelStyles[k]],
            pointRadius: 0,
            order: 5
        }));

        const overlay = {
            id: 'overlay',
            beforeDatasetsDraw(chart) {
                const { ctx, chartArea: a, scales: { x, y } } = chart;
                ctx.save();
                ctx.beginPath();
                ctx.rect(a.left, a.top, a.right - a.left, a.bottom - a.top);
                ctx.clip();
                ctx.font = '21px "Liberation Sans", Arial, sans-serif';
                ctx.textAlign = 'center';
                ctx.textBaseline = 'alphabetic';
                const cx = x.getPixelForValue(labelBar);
                levelPrices.forEach((p, k) => {
                    ctx.fillStyle = levelColors[k];
                    ctx.fillText(levelNames[k], cx, y.getPixelForValue(p) + 20);
                });
                ctx.restore();
            },
            afterDraw(chart) {
                const { ctx, chartArea: a, scales: { y } } = chart;
                ctx.save();

                // window edges
                ctx.strokeStyle = '#a0a0a0';
                ctx.lineWidth = 1;
                ctx.beginPath();
                ctx.moveTo(0, 0.5); ctx.lineTo(3840, 0.5);
                ctx.moveTo(0.5, 0); ctx.lineTo(0.5, 1994);
                ctx.moveTo(0, 1993.5); ctx.lineTo(3840, 1993.5);
                ctx.stroke();

                // chart frame
                ctx.strokeStyle = '#000';
                ctx.strokeRect(a.left + 0.5, a.top + 0.5, a.right - a.left - 1, a.bottom - a.top - 1);

                // price tags on the axis
                ctx.font = '17px ' + sansCond;
                ctx.textAlign = 'left';
                ctx.textBaseline = 'middle';
                const tag = (p, bg) => {
                    const py = y.getPixelForValue(p);
                    ctx.fillStyle = bg;
                    ctx.fillRect(a.right + 1, py - 7, 81, 23);
                    ctx.fillStyle = '#fff';
                    ctx.fillText(p.toFixed(5), a.right + 9, py + 6);
                };
                tag(lastPrice, '#000');
                levelPrices.forEach((p, k) => tag(p, levelColors[k]));

                // title
                ctx.fillStyle = '#000';
                ctx.beginPath();
                ctx.moveTo(10, 17); ctx.lineTo(20, 17); ctx.lineTo(15, 23); ctx.closePath();
                ctx.fill();
                ctx.font = '18px ' + sansCond;
                ctx.textBaseline = 'alphabetic';
                ctx.fillText('EURUSD,M15  ' + lastBar.map(v => toPrice(v).toFixed(5)).join(' '), 33, 26);

                // shift marker
                ctx.fillStyle = '#a8a8a8';
                ctx.beginPath();
                ctx.moveTo(3365, 5); ctx.lineTo(3383, 5); ctx.lineTo(3374, 12); ctx.closePath();
                ctx.fill();

                // red cross marks
                ctx.strokeStyle = 'rgba(232, 56, 56, 0.95)';
                ctx.lineWidth = 8;
                ctx.lineCap = 'round';
                ctx.shadowColor = 'rgba(0,0,0,0.25)';
                ctx.shadowBlur = 3;
                ctx.shadowOffsetY = 2;
                [[3385, 717], [3742, 1217]].forEach(([cx, cy]) => {
                    ctx.beginPath();
                    ctx.moveTo(cx - 15, cy - 14); ctx.lineTo(cx + 15, cy + 14);
                    ctx.moveTo(cx + 15, cy - 14); ctx.lineTo(cx - 15, cy + 14);
                    ctx.stroke();
                });
                ctx.shadowColor = 'transparent';

                // mouse pointer
                const px = 117, py = 913;
                const arrow = [[0, 0], [0, 29], [7, 22], [12, 34], [17, 32], [12, 21], [22, 21]];
                ctx.beginPath();
                arrow.forEach(([dx, dy], i) => i ? ctx.lineTo(px + dx, py + dy) : ctx.moveTo(px + dx, py + dy));
                ctx.closePath();
                ctx.fillStyle = '#fff';
                ctx.fill();
                ctx.lineWidth = 1;
                ctx.strokeStyle = '#000';
                ctx.stroke();

                ctx.restore();
            }
        };

        const ctx = document.getElementById('priceChart').getContext('2d');
        window.myChart = new Chart(ctx, {
            type: 'bar',
            data: {
                datasets: [
                    {
                        label: 'bodies',
                        data: candles.map((c, i) => ({ x: i, y: [toPrice(c[0]), toPrice(c[3])] })),
                        backgroundColor: candles.map(c => c[3] >= c[0] ? '#ffffff' : '#000000'),
                        borderColor: '#000000',
                        borderWidth: 1,
                        borderSkipped: false,
                        barThickness: 3,
                        minBarLength: 1,
                        inflateAmount: 0,
                        grouped: false,
                        order: 0
                    },
                    {
                        label: 'wicks',
                        data: candles.map((c, i) => ({ x: i, y: [toPrice(c[2]), toPrice(c[1])] })),
                        backgroundColor: '#000000',
                        borderWidth: 0,
                        barThickness: 1,
                        minBarLength: 1,
                        inflateAmount: 0,
                        grouped: false,
                        order: 1
                    },
                    {
                        type: 'line',
                        label: 'last',
                        data: [{ x: xMin, y: lastPrice }, { x: xMax, y: lastPrice }],
                        borderColor: '#c0c0c0',
                        borderWidth: 1,
                        pointRadius: 0,
                        order: 4
                    },
                    ...levelSets
                ]
            },
            options: {
                responsive: false,
                maintainAspectRatio: false,
                animation: false,
                devicePixelRatio: 1,
                events: [],
                layout: { padding: { left: 3, top: 4, right: 0, bottom: 0 } },
                plugins: { legend: { display: false }, tooltip: { enabled: false } },
                scales: {
                    x: {
                        type: 'linear',
                        min: xMin,
                        max: xMax,
                        offset: false,
                        afterBuildTicks: s => { s.ticks = gridBars.map(v => ({ value: v })); },
                        afterFit: s => { s.height = 35; s.paddingLeft = 0; s.paddingRight = 0; },
                        grid: {
                            color: '#c0c0c0',
                            lineWidth: 1,
                            tickLength: 4,
                            tickColor: c => (c.tick && c.tick.value % 32 === 0) ? '#000' : 'rgba(0,0,0,0)',
                            tickBorderDash: []
                        },
                        border: { display: false, dash: [3, 3] },
                        ticks: {
                            autoSkip: false,
                            maxRotation: 0,
                            minRotation: 0,
                            align: 'start',
                            padding: 2,
                            color: '#000',
                            font: { family: sansCond, size: 18 },
                            callback: v => v % 32 === 0 ? (timeLabels[v / 32] || '') : ''
                        }
                    },
                    y: {
                        position: 'right',
                        min: yMin,
                        max: yMax,
                        afterBuildTicks: s => { s.ticks = priceTicks.map(v => ({ value: v })); },
                        afterFit: s => { s.width = 93; s.paddingTop = 0; s.paddingBottom = 0; },
                        grid: {
                            color: '#c0c0c0',
                            lineWidth: 1,
                            tickLength: 4,
                            tickColor: '#000',
                            tickBorderDash: []
                        },
                        border: { display: false, dash: [3, 3] },
                        ticks: {
                            autoSkip: false,
                            padding: 5,
                            labelOffset: 2,
                            color: '#000',
                            font: { family: sansCond, size: 17 },
                            callback: v => v.toFixed(5)
                        }
                    }
                }
            },
            plugins: [overlay]
        });
    </script>
</body>
</html>
